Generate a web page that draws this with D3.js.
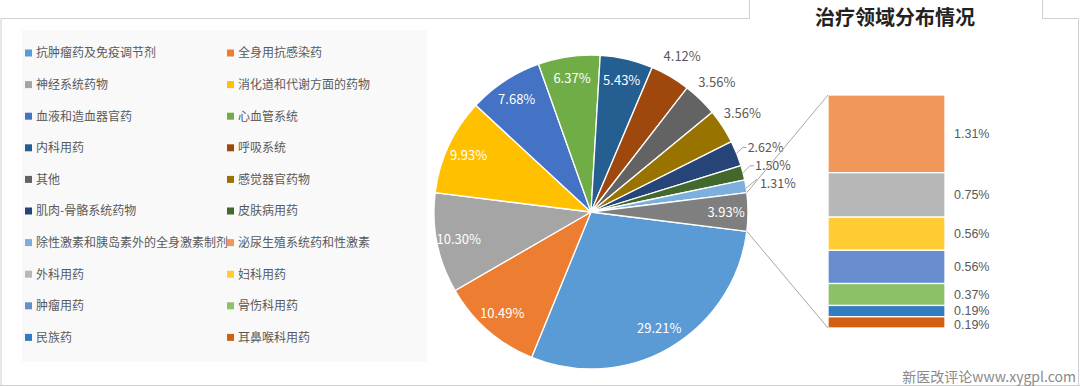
<!DOCTYPE html>
<html>
<head>
<meta charset="utf-8">
<script src="https://cdn.jsdelivr.net/npm/d3@7"></script>
<style>
  body { margin: 0; background: #fff; }
  svg { display: block; font-family: "Noto Sans CJK SC", "Noto Sans", sans-serif; }
</style>
</head>
<body>
<div id="chart"></div>
<script>
const w = 1080;
const h = 386;

// legend categories, in legend order (row by row, two columns)
const categories = [
  "抗肿瘤药及免疫调节剂", "全身用抗感染药",
  "神经系统药物", "消化道和代谢方面的药物",
  "血液和造血器官药", "心血管系统",
  "内科用药", "呼吸系统",
  "其他", "感觉器官药物",
  "肌肉-骨骼系统药物", "皮肤病用药",
  "除性激素和胰岛素外的全身激素制剂", "泌尿生殖系统药和性激素",
  "外科用药", "妇科用药",
  "肿瘤用药", "骨伤科用药",
  "民族药", "耳鼻喉科用药"
];
const shares = [29.21, 10.49, 10.30, 9.93, 7.68, 6.37, 5.43, 4.12, 3.56, 3.56,
  2.62, 1.50, 1.31, 1.31, 0.75, 0.56, 0.56, 0.37, 0.19, 0.19];
const colors = ["#5b9bd5", "#ed7d31", "#a5a5a5", "#ffc000", "#4472c4", "#70ad47",
  "#255e91", "#9e480e", "#636363", "#997300", "#264478", "#43682b",
  "#7cafdd", "#f1975a", "#b7b7b7", "#ffcd33", "#698ed0", "#8cc168",
  "#327dc2", "#d26012"];
const pieCount = 13; // first 13 go in the pie, the rest into the bar
const otherColor = "#7f7f7f";

const pieData = shares.slice(0, pieCount).map((v, i) => ({ name: categories[i], value: v, color: colors[i] }));
const barData = shares.slice(pieCount).map((v, i) => ({ name: categories[i + pieCount], value: v, color: colors[i + pieCount] }));
const otherTotal = 3.93;
pieData.push({ name: "other", value: otherTotal, color: otherColor, other: true });

let svg = d3.select("#chart").append("svg").attr("width", w).attr("height", h);

// frame bits from the slide
const frame = svg.append("g").attr("stroke", "#cfcfcf").attr("fill", "none").attr("stroke-width", 1);
frame.append("path").attr("d", "M1,386 V18.5 H749.5 V0");
frame.append("path").attr("d", "M1042.5,0 V18.5 H1078.5 V386");
frame.append("line").attr("x1", 0).attr("x2", w).attr("y1", 385.5).attr("y2", 385.5);

// legend panel
svg.append("rect").attr("x", 22).attr("y", 30).attr("width", 405).attr("height", 332).attr("fill", "#f9f9f9");

let legend = svg.selectAll("g.leg").data(categories).enter().append("g").attr("class", "leg")
  .attr("transform", (d, i) => `translate(${i % 2 ? 227 : 25},${53 + Math.floor(i / 2) * 31.6})`);
legend.append("rect").attr("x", 0).attr("y", -3.5).attr("width", 7).attr("height", 7).attr("fill", (d, i) => colors[i]);
legend.append("text").attr("x", 11).attr("y", 0).attr("dy", "0.36em")
  .attr("font-size", 12).attr("fill", "#595959").text(d => d);

// pie
const cx = 591, cy = 212, R = 157;
const half = otherTotal / 100 * Math.PI;
const start = Math.PI / 2 + half;
let arcs = d3.pie().sort(null).value(d => d.value).startAngle(start).endAngle(start + 2 * Math.PI)(pieData);
let arc = d3.arc().innerRadius(0).outerRadius(R);
let pg = svg.append("g").attr("transform", `translate(${cx},${cy})`);
pg.selectAll("path").data(arcs).enter().append("path")
  .attr("d", arc).attr("fill", d => d.data.color)
  .attr("stroke", "#fff").attr("stroke-width", 1.3);

const pt = (a, r) => [r * Math.sin(a), -r * Math.cos(a)];
const fmt = v => v.toFixed(2) + "%";

// inside labels for the big slices + other
let inside = arcs.filter(d => d.data.value >= 5 || d.data.other);
pg.selectAll("text.in").data(inside).enter().append("text").attr("class", "in")
  .attr("x", d => pt((d.startAngle + d.endAngle) / 2, R * 0.86)[0])
  .attr("y", d => pt((d.startAngle + d.endAngle) / 2, R * 0.86)[1])
  .attr("text-anchor", "middle").attr("dy", "0.36em")
  .attr("font-size", 13).attr("fill", "#fff").text(d => fmt(d.data.value));

// outside labels
let mid = arcs.filter(d => !d.data.other && d.data.value < 5 && d.data.value >= 3);
pg.selectAll("text.out").data(mid).enter().append("text").attr("class", "out")
  .attr("x", d => pt((d.startAngle + d.endAngle) / 2, R * 1.15)[0])
  .attr("y", d => pt((d.startAngle + d.endAngle) / 2, R * 1.15)[1])
  .attr("text-anchor", "middle").attr("dy", "0.36em")
  .attr("font-size", 13).attr("fill", "#595959").text(d => fmt(d.data.value));

// small slices with leader lines
const smallOffsets = [[11, -6], [12, -7], [14, -3]];
let small = arcs.filter(d => !d.data.other && d.data.value < 3);
let sg = pg.selectAll("g.small").data(small).enter().append("g").attr("class", "small");
sg.append("polyline")
  .attr("points", (d, i) => {
    let p = pt((d.startAngle + d.endAngle) / 2, R);
    let o = smallOffsets[i];
    return i < 2
      ? `${p[0]},${p[1]} ${p[0] + o[0] - 5},${p[1] + o[1]} ${p[0] + o[0] - 1},${p[1] + o[1]}`
      : `${p[0]},${p[1] + 2} ${p[0] + o[0] - 3},${p[1] + o[1] - 4}`;
  })
  .attr("fill", "none").attr("stroke", "#a6a6a6").attr("stroke-width", 1);
sg.append("text")
  .attr("x", (d, i) => pt((d.startAngle + d.endAngle) / 2, R)[0] + smallOffsets[i][0])
  .attr("y", (d, i) => pt((d.startAngle + d.endAngle) / 2, R)[1] + smallOffsets[i][1])
  .attr("dy", "0.36em").attr("font-size", 12.5).attr("fill", "#595959")
  .text(d => fmt(d.data.value));

// bar of pie
const bx = 828, bw = 117;
let y = d3.scaleLinear().domain([0, otherTotal]).range([328, 95]);
let acc = otherTotal;
barData.forEach(d => { d.top = acc; acc -= d.value; d.bottom = acc; });
// label positions, pushed apart from the bottom up
let prev = Infinity;
barData.slice().reverse().forEach((d, i) => {
  let c = y((d.top + d.bottom) / 2) + (i === 0 ? 2 : 0);
  d.ly = Math.min(c, prev - 14);
  prev = d.ly;
});
let bg = svg.append("g");
bg.selectAll("rect").data(barData).enter().append("rect")
  .attr("x", bx).attr("width", bw)
  .attr("y", d => y(d.top)).attr("height", d => y(d.bottom) - y(d.top))
  .attr("fill", d => d.color).attr("stroke", "#fff").attr("stroke-width", 1.3);
bg.selectAll("text").data(barData).enter().append("text")
  .attr("x", bx + bw + 9).attr("y", d => d.ly)
  .attr("dy", "0.36em").attr("font-size", 12.5).attr("fill", "#595959")
  .attr("font-family", "'Liberation Sans', Arial, sans-serif")
  .text(d => fmt(d.value));

// connector lines from the other slice to the bar
let oth = arcs.find(d => d.data.other);
let p0 = pt(oth.startAngle, R), p1 = pt(oth.endAngle, R);
svg.append("line").attr("x1", cx + p0[0]).attr("y1", cy + p0[1]).attr("x2", bx).attr("y2", y(otherTotal))
  .attr("stroke", "#a6a6a6").attr("stroke-width", 1);
svg.append("line").attr("x1", cx + p1[0]).attr("y1", cy + p1[1]).attr("x2", bx).attr("y2", y(0))
  .attr("stroke", "#a6a6a6").attr("stroke-width", 1);

// title
svg.append("text").attr("x", 895).attr("y", 25).attr("text-anchor", "middle")
  .attr("font-size", 20).attr("font-weight", "bold").attr("fill", "#222").text("治疗领域分布情况");

// watermark
svg.append("text").attr("x", 1076).attr("y", 382).attr("text-anchor", "end")
  .attr("font-size", 14).attr("fill", "#8a8a8a").text("新医改评论www.xygpl.com");
</script>
</body>
</html>
